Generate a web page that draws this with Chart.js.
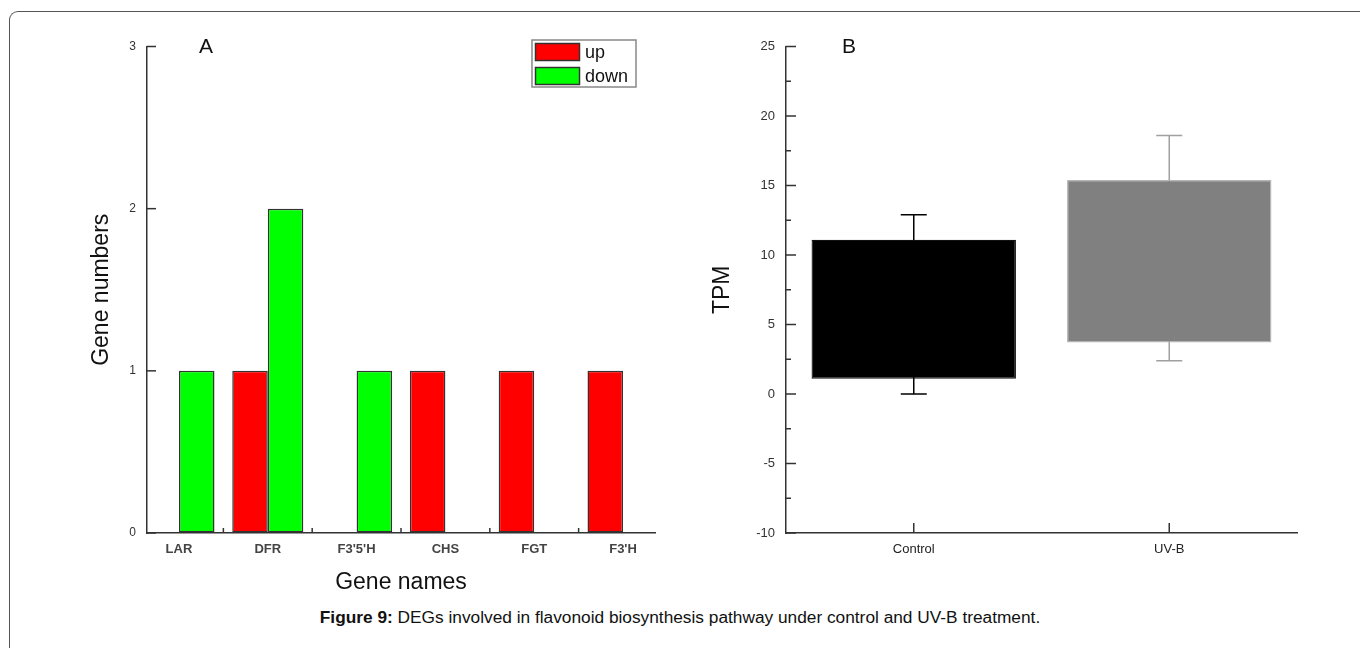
<!DOCTYPE html>
<html><head><meta charset="utf-8">
<script src="https://cdn.jsdelivr.net/npm/chart.js@4.4.1/dist/chart.umd.min.js"></script>
<style>
html,body{margin:0;padding:0;background:#fff;}
body{width:1360px;height:648px;position:relative;overflow:hidden;font-family:"Liberation Sans",Arial,sans-serif;}
#frame{position:absolute;left:9px;top:11px;width:1400px;height:700px;border-top:1.5px solid #555;border-left:1.5px solid #555;border-top-left-radius:9px;}
#wa{position:absolute;left:40px;top:20px;width:640px;height:580px;}
#wb{position:absolute;left:700px;top:20px;width:620px;height:580px;}
#cap{position:absolute;left:0;width:1360px;top:607px;text-align:center;font-size:17.3px;line-height:20px;color:#111;}
canvas{display:block;}
</style></head><body>
<div id="frame"></div>
<div id="wa"><canvas id="ca" width="640" height="580"></canvas></div>
<div id="wb"><canvas id="cb" width="620" height="580"></canvas></div>
<div id="cap"><b>Figure 9:</b> DEGs involved in flavonoid biosynthesis pathway under control and UV-B treatment.</div>
<script>
// ---- Panel A data ----
const genes = ['LAR', 'DFR', "F3'5'H", 'CHS', 'FGT', "F3'H"];
const upCounts = [0, 1, 0, 1, 1, 1];
const downCounts = [1, 2, 1, 0, 0, 0];
const geneTicks = [0, 1, 2, 3];
// ---- Panel B data ----
const groups = ['Control', 'UV-B'];
const barLow = [1.1, 3.7];
const barHigh = [11.1, 15.4];
const errLow = [0, 2.4];
const errHigh = [12.9, 18.6];
const tpmTicks = [-10, -5, 0, 5, 10, 15, 20, 25];

const FAM = '"Liberation Sans", Arial, sans-serif';

const inTicks = {
  id: 'inTicks',
  afterDraw(chart, args, opts) {
    const ctx = chart.ctx;
    ctx.save();
    ctx.strokeStyle = opts.color || '#333';
    ctx.lineWidth = 1.5;
    const ys = chart.scales.y, xs = chart.scales.x;
    (opts.y || []).forEach(t => {
      const p = ys.getPixelForValue(t.v);
      ctx.beginPath(); ctx.moveTo(ys.right, p); ctx.lineTo(ys.right + t.len, p); ctx.stroke();
    });
    (opts.x || []).forEach(t => {
      const p = xs.getPixelForValue(t.v);
      ctx.beginPath(); ctx.moveTo(p, xs.top); ctx.lineTo(p, xs.top - t.len); ctx.stroke();
    });
    ctx.restore();
  }
};

const errBars = {
  id: 'errBars',
  beforeDatasetsDraw(chart, args, opts) {
    if (!opts || !opts.colors) return;
    const xs = chart.scales.x, ys = chart.scales.y, ctx = chart.ctx;
    ctx.save();
    ctx.lineWidth = 1.5;
    errLow.forEach((lo, i) => {
      const px = xs.getPixelForValue(i);
      const yl = ys.getPixelForValue(lo), yh = ys.getPixelForValue(errHigh[i]);
      ctx.strokeStyle = opts.colors[i];
      ctx.beginPath();
      ctx.moveTo(px, yl); ctx.lineTo(px, yh);
      ctx.moveTo(px - 13, yl); ctx.lineTo(px + 13, yl);
      ctx.moveTo(px - 13, yh); ctx.lineTo(px + 13, yh);
      ctx.stroke();
    });
    ctx.restore();
  }
};

const decor = {
  id: 'decor',
  afterDraw(chart, args, opts) {
    const ctx = chart.ctx, ca = chart.chartArea;
    ctx.save();
    ctx.fillStyle = '#111';
    ctx.font = '21px ' + FAM;
    ctx.textAlign = 'center';
    ctx.textBaseline = 'middle';
    ctx.fillText(opts.letter, ca.left + opts.letterDx, ca.top + 1);
    if (opts.legend) {
      const bl = ca.right - 123, bt = ca.top - 6.5, bw = 104, bh = 47;
      ctx.fillStyle = '#fff';
      ctx.fillRect(bl, bt, bw, bh);
      ctx.strokeStyle = '#888';
      ctx.lineWidth = 1.5;
      ctx.strokeRect(bl, bt, bw, bh);
      ctx.font = '18px ' + FAM;
      ctx.textAlign = 'left';
      chart.data.datasets.forEach((ds, i) => {
        const sy = bt + 3.5 + i * 24, sh = 17;
        ctx.fillStyle = ds.backgroundColor;
        ctx.fillRect(bl + 3.5, sy, 44, sh);
        ctx.strokeStyle = '#333';
        ctx.lineWidth = 1.5;
        ctx.strokeRect(bl + 3.5, sy, 44, sh);
        ctx.fillStyle = '#111';
        ctx.fillText(ds.label, bl + 53, sy + sh / 2 + 1);
      });
    }
    ctx.restore();
  }
};

const tickFont = { family: FAM, size: 13 };
const titleFont = { family: FAM, size: 23 };

new Chart(document.getElementById('ca'), {
  type: 'bar',
  data: {
    datasets: [
      { label: 'up', data: genes.map((g, i) => ({ x: i, y: upCounts[i] })), backgroundColor: '#ff0000', borderColor: '#333', borderWidth: 1.5, borderSkipped: false },
      { label: 'down', data: genes.map((g, i) => ({ x: i, y: downCounts[i] })), backgroundColor: '#00ff00', borderColor: '#333', borderWidth: 1.5, borderSkipped: false }
    ]
  },
  options: {
    responsive: false, animation: false,
    layout: { padding: { left: 0, right: 25, top: 26.5, bottom: 0 } },
    datasets: { bar: { categoryPercentage: 0.8, barPercentage: 1 } },
    plugins: {
      legend: { display: false }, tooltip: { enabled: false },
      inTicks: { color: '#333', y: geneTicks.map(v => ({ v, len: 9 })), x: genes.slice(1).map((g, i) => ({ v: i + 0.5, len: 5 })) },
      decor: { letter: 'A', letterDx: 59, legend: true }
    },
    scales: {
      x: {
        type: 'linear', min: -0.36, max: 5.36, offset: false,
        afterBuildTicks: s => { s.ticks = genes.map((g, i) => ({ value: i })); },
        afterFit: s => { s.height = 67; },
        ticks: { callback: v => genes[v], font: { family: FAM, size: 13, weight: 'bold' }, color: '#444', padding: 9, maxRotation: 0, autoSkip: false },
        grid: { display: true, drawOnChartArea: false, drawTicks: false, offset: false },
        border: { color: '#333', width: 1.5 },
        title: { display: true, text: 'Gene names', font: titleFont, color: '#111', padding: { top: 0, bottom: 4 } }
      },
      y: {
        min: 0, max: 3,
        afterBuildTicks: s => { s.ticks = geneTicks.map(v => ({ value: v })); },
        afterFit: s => { s.width = 107; },
        ticks: { font: { family: FAM, size: 12 }, color: '#333', padding: 11 },
        grid: { display: true, drawOnChartArea: false, drawTicks: false },
        border: { color: '#333', width: 1.5 },
        title: { display: true, text: 'Gene numbers', font: titleFont, color: '#111', padding: { top: 48, bottom: 0 } }
      }
    }
  },
  plugins: [inTicks, decor]
});

new Chart(document.getElementById('cb'), {
  type: 'bar',
  data: {
    labels: groups,
    datasets: [
      { label: 'TPM', data: groups.map((g, i) => [barLow[i], barHigh[i]]), backgroundColor: ['#000000', '#808080'], borderColor: ['#111111', '#b4b4b4'], borderWidth: 1.2, borderSkipped: false }
    ]
  },
  options: {
    responsive: false, animation: false,
    layout: { padding: { left: 0, right: 23, top: 26.5, bottom: 0 } },
    datasets: { bar: { categoryPercentage: 0.8, barPercentage: 1 } },
    plugins: {
      legend: { display: false }, tooltip: { enabled: false },
      inTicks: {
        color: '#333',
        y: tpmTicks.map(v => ({ v, len: 10 })).concat(tpmTicks.slice(1).map(v => ({ v: v - 2.5, len: 5 }))),
        x: groups.map((g, i) => ({ v: i, len: 10 }))
      },
      errBars: { colors: ['#000000', '#a0a0a0'] },
      decor: { letter: 'B', letterDx: 63, legend: false }
    },
    scales: {
      x: {
        offset: true,
        afterFit: s => { s.height = 67; },
        ticks: { font: { family: FAM, size: 13 }, color: '#222', padding: 9, maxRotation: 0 },
        grid: { display: true, drawOnChartArea: false, drawTicks: false, offset: false },
        border: { color: '#333', width: 1.5 }
      },
      y: {
        min: -10, max: 25,
        afterBuildTicks: s => { s.ticks = tpmTicks.map(v => ({ value: v })); },
        afterFit: s => { s.width = 86; },
        ticks: { font: tickFont, color: '#333', padding: 11 },
        grid: { display: true, drawOnChartArea: false, drawTicks: false },
        border: { color: '#333', width: 1.5 },
        title: { display: true, text: 'TPM', font: titleFont, color: '#111', padding: { top: 9, bottom: 0 } }
      }
    }
  },
  plugins: [inTicks, errBars, decor]
});
</script>
</body></html>
